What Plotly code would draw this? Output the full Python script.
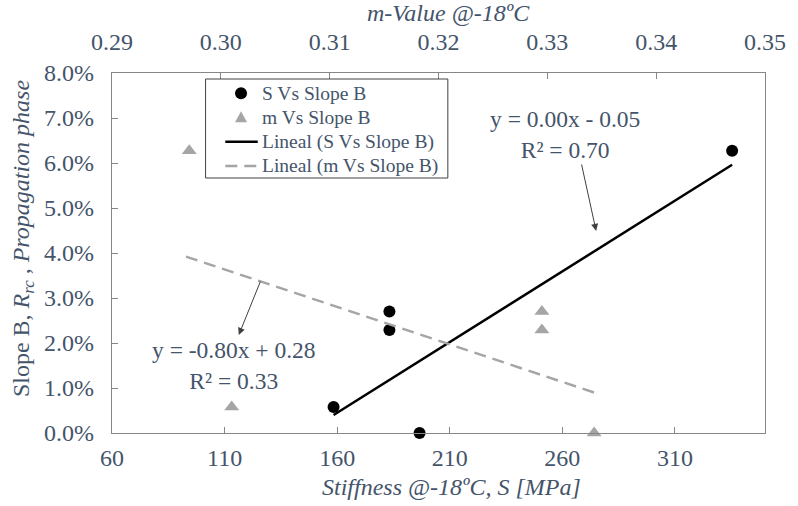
import plotly.graph_objects as go

# ---- data ----
stiffness_S = [158.4, 183.2, 183.2, 196.6, 335.4]          # MPa
m_value = [0.3010, 0.3295, 0.3295, 0.3343, 0.2971]
slope_B = [0.0058, 0.0270, 0.0229, 0.0000, 0.0627]

trend_S_x = [158.4, 335.4]
trend_S_y = [0.0040, 0.0596]
trend_m_x = [0.2968, 0.3343]
trend_m_y = [0.0392, 0.0090]

series_names = ["S Vs Slope B", "m Vs Slope B", "Lineal (S Vs Slope B)", "Lineal (m Vs Slope B)"]

eq_S = "y = 0.00x - 0.05<br>R² = 0.70"
eq_m = "y = -0.80x + 0.28<br>R² = 0.33"

FONT = "'Liberation Serif', 'Times New Roman', Times, serif"
TXT = "#44546A"
AX = "#868686"
GREY = "#A5A5A5"

fig = go.Figure()
fig.add_trace(go.Scatter(x=stiffness_S, y=slope_B, mode="markers", name=series_names[0],
                         marker=dict(symbol="circle", size=12, color="black"),
                         cliponaxis=False, showlegend=False))
fig.add_trace(go.Scatter(x=m_value, y=slope_B, mode="markers", name=series_names[1],
                         xaxis="x2",
                         marker=dict(symbol="triangle-up", size=13, color=GREY),
                         cliponaxis=False, showlegend=False))
fig.add_trace(go.Scatter(x=trend_S_x, y=trend_S_y, mode="lines", name=series_names[2],
                         line=dict(color="black", width=2.5), showlegend=False))
fig.add_trace(go.Scatter(x=trend_m_x, y=trend_m_y, mode="lines", name=series_names[3],
                         xaxis="x2",
                         line=dict(color=GREY, width=2.5, dash="12px,7px"), showlegend=False))

axis_common = dict(showgrid=False, zeroline=False, showline=True, linecolor=AX, linewidth=1.3,
                   ticks="inside", ticklen=6, tickcolor=AX, tickwidth=1.3,
                   tickfont=dict(family=FONT, size=24, color=TXT))

fig.update_layout(
    width=798, height=506,
    margin=dict(l=112, r=23, t=73, b=73),
    paper_bgcolor="white", plot_bgcolor="white",
    font=dict(family=FONT, color=TXT),
    xaxis=dict(range=[60, 350], tick0=60, dtick=50, ticklabelstandoff=3, **axis_common),
    xaxis2=dict(range=[0.29, 0.35], dtick=0.01, tickformat=".2f", overlaying="x", side="top",
                ticklabelstandoff=12, **axis_common),
    yaxis=dict(range=[0, 0.08], dtick=0.01, tickformat=".1%", mirror=True,
               ticklabelstandoff=12, **axis_common),
    showlegend=False,
)

# ---- legend box drawn in paper coordinates ----
lx0, lx1, ly0, ly1 = 0.1433, 0.5143, 0.7083, 0.9833
row_y = [0.9436, 0.8769, 0.8092, 0.7417]
sym_x = 0.1976
line_x0, line_x1 = 0.1735, 0.2232
text_x = 0.2262

shapes = [
    dict(type="rect", xref="paper", yref="paper", x0=lx0, x1=lx1, y0=ly0, y1=ly1,
         line=dict(color="#404040", width=1), fillcolor="white", layer="above"),
    dict(type="circle", xref="paper", yref="paper", xsizemode="pixel", ysizemode="pixel",
         xanchor=sym_x, yanchor=row_y[0], x0=-6, x1=6, y0=-6, y1=6,
         fillcolor="black", line=dict(width=0), layer="above"),
    dict(type="path", xref="paper", yref="paper", xsizemode="pixel", ysizemode="pixel",
         xanchor=sym_x, yanchor=row_y[1], path="M -6,-5 L 6,-5 L 0,6 Z",
         fillcolor=GREY, line=dict(width=0), layer="above"),
    dict(type="line", xref="paper", yref="paper", x0=line_x0, x1=line_x1, y0=row_y[2], y1=row_y[2],
         line=dict(color="black", width=2.5), layer="above"),
    dict(type="line", xref="paper", yref="paper", x0=line_x0, x1=line_x1, y0=row_y[3], y1=row_y[3],
         line=dict(color=GREY, width=2.5, dash="12px,7px"), layer="above"),
]

annotations = [
    # axis titles
    dict(text="<i>Stiffness @-18ºC, S [MPa]</i>", xref="paper", yref="paper",
         x=0.52, y=-0.15, xanchor="center", yanchor="middle", showarrow=False,
         font=dict(family=FONT, size=24, color=TXT)),
    dict(text="<i>m-Value @-18ºC</i>", xref="paper", yref="paper",
         x=0.515, y=1.167, xanchor="center", yanchor="middle", showarrow=False,
         font=dict(family=FONT, size=24, color=TXT)),
    dict(text="Slope B, <i>R<sub>rc</sub></i> , <i>Propagation phase</i>", xref="paper", yref="paper",
         x=-0.136, y=0.542, xanchor="center", yanchor="middle", textangle=-90, showarrow=False,
         font=dict(family=FONT, size=24, color=TXT)),
    # equations
    dict(text=eq_S, xref="x", yref="y", x=261, y=0.0664, showarrow=False, align="center",
         font=dict(family=FONT, size=23.5, color=TXT)),
    dict(text=eq_m, xref="x", yref="y", x=114.3, y=0.0149, showarrow=False, align="center",
         font=dict(family=FONT, size=23.5, color=TXT)),
    # arrows
    dict(text="", xref="x", yref="y", x=275.0, y=0.0449, axref="x", ayref="y", ax=268.4, ay=0.0600,
         showarrow=True, arrowhead=2, arrowsize=1.4, arrowwidth=1, arrowcolor="#404040"),
    dict(text="", xref="x2", yref="y", x=0.30165, y=0.0218, axref="x2", ayref="y", ax=0.30369, ay=0.0340,
         showarrow=True, arrowhead=2, arrowsize=1.4, arrowwidth=1, arrowcolor="#404040"),
]
for name, ry in zip(series_names, row_y):
    annotations.append(dict(text=name, xref="paper", yref="paper", x=text_x, y=ry,
                            xanchor="left", yanchor="middle", showarrow=False,
                            font=dict(family=FONT, size=19.5, color=TXT)))

fig.update_layout(annotations=annotations, shapes=shapes)

fig.write_html("out.html")
